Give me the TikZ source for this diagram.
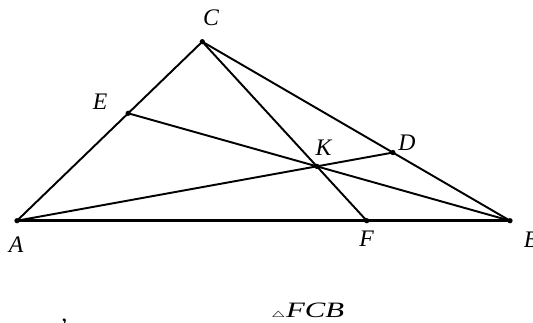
\documentclass[tikz,border=0pt]{standalone}
\usepackage{fontspec}
\setmainfont{Liberation Serif}
\usetikzlibrary{calc}

\begin{document}
\begin{tikzpicture}[x=0.02cm, y=-0.02cm, line width=1.1pt,
  lbl/.style={font=\fontsize{13.5}{15}\selectfont\itshape, inner sep=0pt}]
  \useasboundingbox (0,0) rectangle (533,323);
  % vertices and points on the sides
  \coordinate (A) at (17,220.7);
  \coordinate (B) at (510,220.7);
  \coordinate (C) at (202.3,41.7);
  \coordinate (E) at ($(A)!0.6!(C)$);
  \coordinate (F) at (366.7,220.7);
  \coordinate (K) at (intersection of B--E and C--F);
  \coordinate (D) at (intersection of A--K and B--C);
  % triangle and the three cevians
  \draw[line width=1.6pt] (A) -- (B);
  \draw (B) -- (C) -- (A);
  \draw (A) -- (D);
  \draw (B) -- (E);
  \draw (C) -- (F);
  \foreach \p in {A,B,C,D,E,F,K} \fill (\p) circle (1.5pt);
  % labels
  \node[lbl] (labA) at (16,244.5) {A};
  \node[lbl] (labB) at (531,239.5) {B};
  \node[lbl] (labC) at (211,18) {C};
  \node[lbl] (labD) at (407,142.5) {D};
  \node[lbl] (labE) at (100,102) {E};
  \node[lbl] (labF) at (366.5,238.5) {F};
  \node[lbl] (labK) at (323.5,148) {K};
  % text below the figure
  \node[anchor=base, inner sep=0pt, font=\fontsize{14}{15}\selectfont] (comma) at (64.5,321) {,};
  \node[anchor=base west, inner sep=0pt] (tri) at (270,317)
    {\scalebox{1.4}[1]{{\fontsize{4.5}{5}\selectfont$\triangle$}\fontsize{12.5}{13}\selectfont\itshape FCB}};
\end{tikzpicture}
\end{document}
